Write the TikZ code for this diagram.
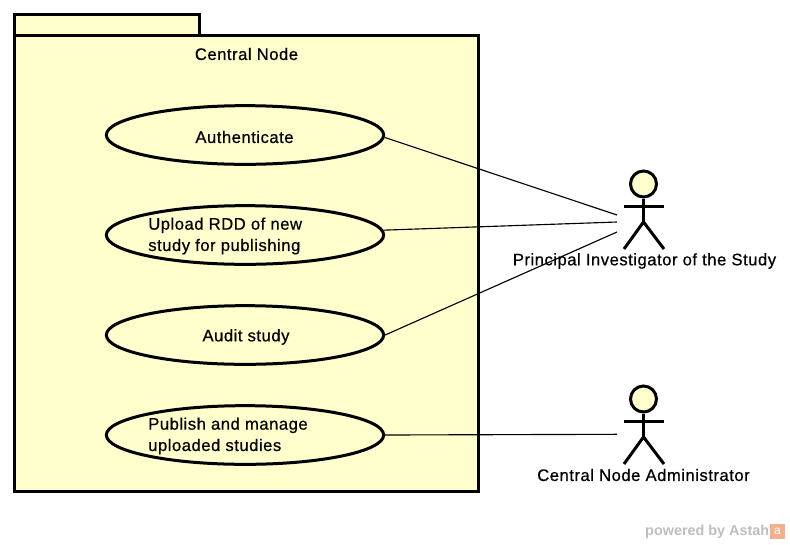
\documentclass[tikz,border=0pt]{standalone}
\usepackage{fontspec}
\setmainfont[LetterSpace=3,FakeBold=0.6]{Liberation Sans}
\newfontfamily\markfont{Liberation Sans}
\usepackage{xcolor}
\usetikzlibrary{shapes.geometric}
\definecolor{noteyellow}{RGB}{255,255,206}
\definecolor{astahorange}{RGB}{243,176,143}
\definecolor{astahgray}{RGB}{190,190,190}
\tikzset{
  usecase/.style={ellipse,draw,line width=2.25pt,fill=noteyellow,minimum width=208pt,minimum height=44pt,inner sep=0pt},
  pkgbox/.style={draw,line width=2.25pt,fill=noteyellow},
  limb/.style={line width=2.25pt},
  lbl/.style={font=\fontsize{12.5}{16}\selectfont,inner sep=0pt},
  assoc/.style={line width=0.85pt}
}
\begin{document}
\begin{tikzpicture}[x=0.75pt,y=-0.75pt]
\useasboundingbox (0,0) rectangle (790,544);
% package
\draw[pkgbox] (14.6,14.6) rectangle (199.5,35.3);
\draw[pkgbox] (14.6,35.3) rectangle (478,491);
\node[lbl] (pkgname) at (246.5,54) {Central Node};
% use cases
\node[usecase] (auth) at (245,135) {};
\node[usecase] (upload) at (245,235) {};
\node[usecase] (audit) at (245,335) {};
\node[usecase] (publish) at (245,435) {};
\node[lbl] (authtext) at (244.5,137) {Authenticate};
\node[lbl,anchor=west,align=left] (uploadtext) at (148,236) {Upload RDD of new\\study for publishing};
\node[lbl] (audittext) at (246,337) {Audit study};
\node[lbl,anchor=west,align=left] (publishtext) at (148,436) {Publish and manage\\uploaded studies};
% actors
\node[circle,draw,line width=2.25pt,fill=noteyellow,minimum size=19.5pt,inner sep=0pt] (pihead) at (643.5,184) {};
\draw[limb] (pihead.south) -- (643.5,222);
\draw[limb] (624,206) -- (664,206);
\draw[limb] (624,249) -- (643.5,222) -- (664,249);
\node[lbl] (piname) at (644.5,261) {Principal Investigator of the Study};
\node[circle,draw,line width=2.25pt,fill=noteyellow,minimum size=19.5pt,inner sep=0pt] (adminhead) at (643.5,399) {};
\draw[limb] (adminhead.south) -- (643.5,437);
\draw[limb] (624,421) -- (664,421);
\draw[limb] (624,464) -- (643.5,437) -- (664,464);
\node[lbl] (adminname) at (643.5,475) {Central Node Administrator};
% associations
\coordinate (pia) at (617,215);
\coordinate (pib) at (617,222);
\coordinate (pic) at (617,232);
\coordinate (admina) at (617,434.3);
\draw[assoc] (auth.-1) -- (pia);
\draw[assoc] (upload.2) -- (pib);
\draw[assoc] (audit.east) -- (pic);
\draw[assoc] (publish.0.3) -- (admina);
% watermark
\node[font=\markfont\bfseries\fontsize{10.8}{12}\selectfont,text=astahgray,inner sep=0pt,anchor=east] (mark) at (769.5,532) {powered by Astah};
\node[fill=astahorange,text=white,minimum size=11.25pt,inner sep=0pt,font=\markfont\fontsize{9}{9}\selectfont] (logo) at (777.5,531.5) {a};
\end{tikzpicture}
\end{document}
